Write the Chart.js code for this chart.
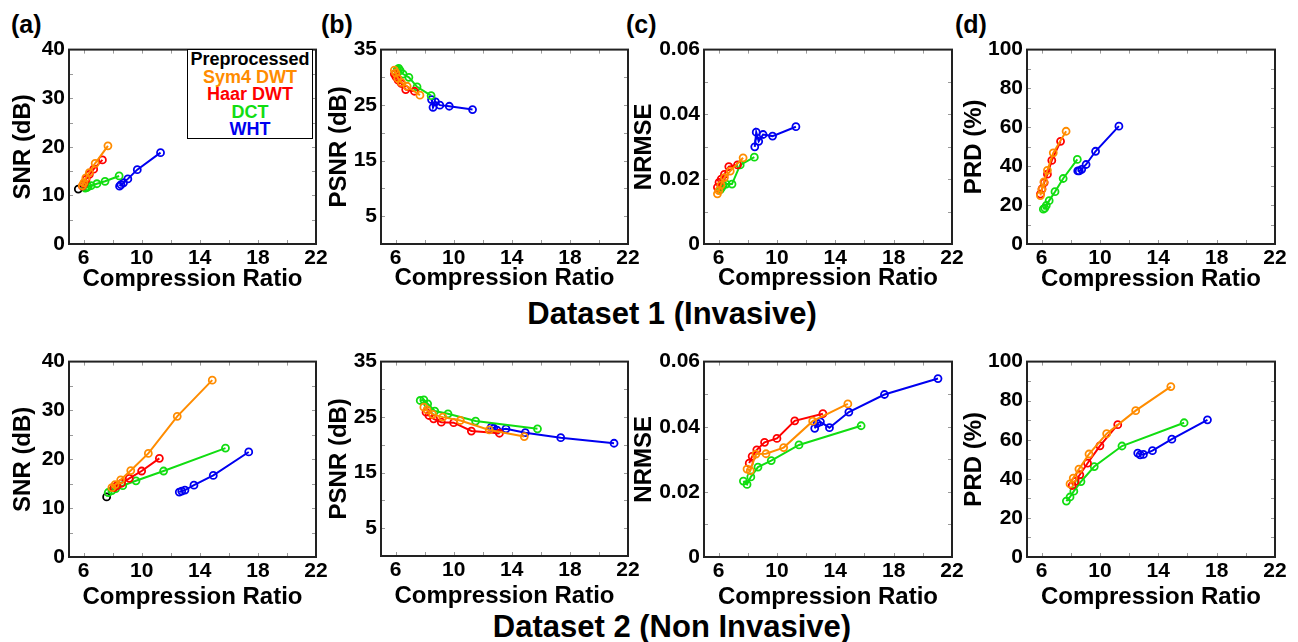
<!DOCTYPE html>
<html>
<head>
<meta charset="utf-8">
<script src="https://cdn.jsdelivr.net/npm/chart.js@4.4.0/dist/chart.umd.min.js"></script>
<style>
  body { margin: 0; background: #fff; width: 1298px; height: 642px; position: relative; overflow: hidden;
         font-family: "Liberation Sans", Arial, sans-serif; font-weight: bold; }
  canvas { position: absolute; }
  .tag { position: absolute; font-size: 25px; line-height: 25px; color: #000; }
  .ds { position: absolute; font-size: 31px; line-height: 31px; color: #000; transform: translateX(-50%); white-space: nowrap; }
  #legend { position: absolute; left: 187px; top: 49px; width: 124px; height: 87px; border: 1.5px solid #000;
            background: #fff; text-align: center; font-size: 18px; line-height: 17.6px; padding-top: 1px; }
</style>
</head>
<body>
<div class="tag" style="left:11px;top:12px">(a)</div>
<div class="tag" style="left:321px;top:12px">(b)</div>
<div class="tag" style="left:626px;top:12px">(c)</div>
<div class="tag" style="left:955px;top:12px">(d)</div>
<div class="ds" style="left:672px;top:298px">Dataset 1 (Invasive)</div>
<div class="ds" style="left:672px;top:611px">Dataset 2 (Non Invasive)</div>

<script>
// colours of the methods
const cSym4 = "#ff8c00";
const cHaar = "#ff0000";
const cDct = "#11dd11";
const cWht = "#0000f0";

// ---- Dataset 1 (Invasive): compression ratios ----
const cr1Pre = [5.64];
const cr1Sym4 = [5.92, 6.02, 6.16, 6.40, 6.80, 7.68];
const cr1Haar = [5.92, 6.03, 6.18, 6.40, 6.70, 7.30];
const cr1Dct = [6.12, 6.22, 6.32, 6.52, 6.92, 7.48, 8.45];
const cr1Wht = [8.48, 8.58, 8.75, 9.05, 9.70, 11.30];

const snr1Pre = [11.3];
const snr1Sym4 = [12.0, 12.6, 13.6, 14.7, 16.6, 20.2];
const snr1Haar = [11.9, 12.4, 13.3, 14.3, 15.4, 17.3];
const snr1Dct = [11.5, 11.6, 11.8, 12.0, 12.4, 12.9, 14.0];
const snr1Wht = [11.9, 12.2, 12.6, 13.4, 15.3, 18.8];

const psnr1Sym4 = [31.3, 30.8, 29.8, 29.1, 28.4, 26.8];
const psnr1Haar = [30.6, 30.1, 29.5, 28.9, 27.8, 27.5];
const psnr1Dct = [31.4, 31.6, 31.2, 30.6, 30.0, 28.3, 26.7];
const psnr1Wht = [26.0, 24.6, 25.6, 25.0, 24.8, 24.2];

const nrmse1Sym4 = [0.0155, 0.0165, 0.0182, 0.0205, 0.0225, 0.0266];
const nrmse1Haar = [0.0175, 0.0190, 0.0200, 0.0215, 0.0239, 0.0244];
const nrmse1Dct = [0.0168, 0.0175, 0.0182, 0.0185, 0.0185, 0.0244, 0.0268];
const nrmse1Wht = [0.0300, 0.0345, 0.0317, 0.0338, 0.0333, 0.0362];

const prd1Sym4 = [24.9, 28.0, 32.0, 37.9, 46.9, 58.0];
const prd1Haar = [25.7, 28.3, 31.6, 35.9, 43.0, 52.8];
const prd1Dct = [17.9, 18.5, 19.8, 22.3, 26.9, 33.7, 43.5];
const prd1Wht = [37.6, 37.6, 38.4, 40.9, 47.7, 60.6];

// ---- Dataset 2 (Non Invasive) ----
const cr2Pre = [7.59];
const cr2Sym4 = [7.95, 8.17, 8.56, 9.25, 10.46, 12.45, 14.86];
const cr2Haar = [8.10, 8.30, 8.62, 9.15, 10.00, 11.22, 13.15];
const cr2Dct = [7.70, 7.95, 8.21, 8.70, 9.61, 11.51, 15.77];
const cr2Wht = [12.59, 12.76, 12.98, 13.60, 14.93, 17.37, 21.04];

const snr2Pre = [12.3];
const snr2Sym4 = [14.2, 14.8, 15.8, 17.7, 21.2, 28.8, 36.2];
const snr2Haar = [14.2, 14.6, 15.1, 16.1, 17.6, 20.2];
const snr2Dct = [13.2, 13.6, 14.0, 14.6, 15.6, 17.6, 22.3];
const snr2Wht = [13.3, 13.5, 13.7, 14.7, 16.7, 21.5];

const psnr2Sym4 = [26.8, 26.3, 25.5, 25.0, 24.4, 22.7, 21.5];
const psnr2Haar = [25.9, 25.3, 24.7, 24.1, 24.0, 22.5, 22.1];
const psnr2Dct = [28.0, 28.1, 27.4, 26.1, 25.6, 24.3, 22.9];
const psnr2Wht = [23.2, 23.0, 22.65, 22.9, 22.2, 21.3, 20.3];

const nrmse2Sym4 = [0.0270, 0.0265, 0.0316, 0.0317, 0.0336, 0.0417, 0.0470];
const nrmse2Haar = [0.0288, 0.0309, 0.0329, 0.0352, 0.0364, 0.0418, 0.0440];
const nrmse2Dct = [0.0233, 0.0223, 0.0246, 0.0276, 0.0296, 0.0344, 0.0403];
const nrmse2Wht = [0.0395, 0.0410, 0.0415, 0.0397, 0.0445, 0.0499, 0.0548];

const prd2Sym4 = [37.4, 40.4, 45.0, 52.7, 63.1, 74.9, 87.2];
const prd2Haar = [36.6, 38.7, 42.1, 48.0, 56.9, 67.7];
const prd2Dct = [28.6, 30.7, 33.7, 38.6, 46.3, 56.8, 68.7];
const prd2Wht = [53.2, 52.3, 52.5, 54.4, 60.3, 70.2];

// axis ticks
const xTicks = [6, 10, 14, 18, 22];
const xMinor = [6, 8, 10, 12, 14, 16, 18, 20, 22];
const snrTicks = [0, 10, 20, 30, 40];
const snrMinor = [5, 10, 15, 20, 25, 30, 35];
const psnrTicks = [5, 15, 25, 35];
const psnrMinor = [5, 10, 15, 20, 25, 30];
const nrmseTicks = [0, 0.02, 0.04, 0.06];
const nrmseMinor = [0.01, 0.02, 0.03, 0.04, 0.05];
const prdTicks = [0, 20, 40, 60, 80, 100];
const prdMinor = [10, 20, 30, 40, 50, 60, 70, 80, 90];

Chart.defaults.font.family = '"Liberation Sans", Arial, sans-serif';
Chart.defaults.font.weight = "bold";
Chart.defaults.color = "#000";

const pts = (cr, vals) => vals.map((v, i) => ({ x: cr[i], y: v }));

function line(label, color, cr, vals) {
  return {
    label: label,
    data: pts(cr, vals),
    showLine: true,
    borderColor: color,
    backgroundColor: color,
    borderWidth: 2,
    pointRadius: 3.5,
    pointBorderWidth: 1.8,
    pointBackgroundColor: "rgba(255,255,255,0)",
    pointBorderColor: color,
  };
}

// draws the frame and the small inward tick marks
const framePlugin = {
  id: "frame",
  afterDatasetsDraw(chart, args, opts) {
    const { ctx, chartArea: a, scales } = chart;
    ctx.save();
    ctx.strokeStyle = "#9a9a9a";
    ctx.lineWidth = 1;
    ctx.beginPath();
    opts.xMinor.forEach((v) => {
      const px = Math.round(scales.x.getPixelForValue(v)) + 0.5;
      ctx.moveTo(px, a.top); ctx.lineTo(px, a.top + 4);
      ctx.moveTo(px, a.bottom); ctx.lineTo(px, a.bottom - 4);
    });
    opts.yMinor.forEach((v) => {
      const py = Math.round(scales.y.getPixelForValue(v)) + 0.5;
      ctx.moveTo(a.left, py); ctx.lineTo(a.left + 4, py);
      ctx.moveTo(a.right, py); ctx.lineTo(a.right - 4, py);
    });
    ctx.stroke();
    ctx.strokeStyle = "#222";
    ctx.lineWidth = 2;
    ctx.strokeRect(a.left, a.top, a.right - a.left, a.bottom - a.top);
    ctx.restore();
  },
};

function makePanel(box, yOff, xOff, yTitle, yMax, yTicks, yMinor, datasets) {
  const [L, T, R, B] = box;
  const PT = 14, PR = 18;
  const YW = Math.round(yOff + 14.4);
  const XH = Math.round(xOff + 14.4);
  const cv = document.createElement("canvas");
  const w = YW + (R - L) + PR;
  const h = PT + (B - T) + XH;
  cv.width = w; cv.height = h;
  cv.style.left = (L - YW) + "px";
  cv.style.top = (T - PT) + "px";
  cv.style.width = w + "px";
  cv.style.height = h + "px";
  document.body.appendChild(cv);

  new Chart(cv, {
    type: "scatter",
    data: { datasets: datasets },
    options: {
      responsive: false,
      animation: false,
      devicePixelRatio: 1,
      layout: { padding: { left: 0, top: PT, right: PR, bottom: 0 } },
      plugins: {
        legend: { display: false },
        tooltip: { enabled: false },
        frame: { xMinor: xMinor, yMinor: yMinor },
      },
      scales: {
        x: {
          type: "linear",
          min: 5,
          max: 22,
          afterBuildTicks: (s) => { s.ticks = xTicks.map((v) => ({ value: v })); },
          afterFit: (s) => { s.height = XH; },
          grid: { display: false, drawTicks: false },
          border: { display: false },
          ticks: { font: { size: 21, weight: "bold" }, color: "#000", padding: 2, autoSkip: false, maxRotation: 0,
                   callback: (v) => String(v) },
          title: { display: true, text: "Compression Ratio", font: { size: 24, weight: "bold" }, color: "#000", padding: 0 },
        },
        y: {
          type: "linear",
          min: 0,
          max: yMax,
          afterBuildTicks: (s) => { s.ticks = yTicks.map((v) => ({ value: v })); },
          afterFit: (s) => { s.width = YW; },
          grid: { display: false, drawTicks: false },
          border: { display: false },
          ticks: { font: { size: 21, weight: "bold" }, color: "#000", padding: 4, autoSkip: false,
                   callback: (v) => String(v) },
          title: { display: true, text: yTitle, font: { size: 24, weight: "bold" }, color: "#000", padding: 0 },
        },
      },
    },
    plugins: [framePlugin],
  });
}

// top row: Dataset 1
makePanel([69, 47, 316, 244], 46, 35.5, "SNR (dB)", 40, snrTicks, snrMinor, [
  line("Sym4 DWT", cSym4, cr1Sym4, snr1Sym4),
  line("Haar DWT", cHaar, cr1Haar, snr1Haar),
  line("DCT", cDct, cr1Dct, snr1Dct),
  line("WHT", cWht, cr1Wht, snr1Wht),
  line("Preprocessed", "#000", cr1Pre, snr1Pre),
]);
makePanel([381, 47, 628, 244], 42, 35, "PSNR (dB)", 35, psnrTicks, psnrMinor, [
  line("Sym4 DWT", cSym4, cr1Sym4, psnr1Sym4),
  line("Haar DWT", cHaar, cr1Haar, psnr1Haar),
  line("DCT", cDct, cr1Dct, psnr1Dct),
  line("WHT", cWht, cr1Wht, psnr1Wht),
]);
makePanel([704, 47, 952, 244], 59.5, 35, "NRMSE", 0.06, nrmseTicks, nrmseMinor, [
  line("Sym4 DWT", cSym4, cr1Sym4, nrmse1Sym4),
  line("Haar DWT", cHaar, cr1Haar, nrmse1Haar),
  line("DCT", cDct, cr1Dct, nrmse1Dct),
  line("WHT", cWht, cr1Wht, nrmse1Wht),
]);
makePanel([1027, 47, 1275, 244], 53, 36, "PRD (%)", 100, prdTicks, prdMinor, [
  line("Sym4 DWT", cSym4, cr1Sym4, prd1Sym4),
  line("Haar DWT", cHaar, cr1Haar, prd1Haar),
  line("DCT", cDct, cr1Dct, prd1Dct),
  line("WHT", cWht, cr1Wht, prd1Wht),
]);

// bottom row: Dataset 2
makePanel([69, 359, 316, 557], 46, 40.5, "SNR (dB)", 40, snrTicks, snrMinor, [
  line("Sym4 DWT", cSym4, cr2Sym4, snr2Sym4),
  line("Haar DWT", cHaar, cr2Haar, snr2Haar),
  line("DCT", cDct, cr2Dct, snr2Dct),
  line("WHT", cWht, cr2Wht, snr2Wht),
  line("Preprocessed", "#000", cr2Pre, snr2Pre),
]);
makePanel([381, 359, 628, 556], 42, 40.5, "PSNR (dB)", 35, psnrTicks, psnrMinor, [
  line("Sym4 DWT", cSym4, cr2Sym4, psnr2Sym4),
  line("Haar DWT", cHaar, cr2Haar, psnr2Haar),
  line("DCT", cDct, cr2Dct, psnr2Dct),
  line("WHT", cWht, cr2Wht, psnr2Wht),
]);
makePanel([704, 359, 952, 557], 60, 41, "NRMSE", 0.06, nrmseTicks, nrmseMinor, [
  line("Sym4 DWT", cSym4, cr2Sym4, nrmse2Sym4),
  line("Haar DWT", cHaar, cr2Haar, nrmse2Haar),
  line("DCT", cDct, cr2Dct, nrmse2Dct),
  line("WHT", cWht, cr2Wht, nrmse2Wht),
]);
makePanel([1027, 359, 1275, 557], 53, 41, "PRD (%)", 100, prdTicks, prdMinor, [
  line("Sym4 DWT", cSym4, cr2Sym4, prd2Sym4),
  line("Haar DWT", cHaar, cr2Haar, prd2Haar),
  line("DCT", cDct, cr2Dct, prd2Dct),
  line("WHT", cWht, cr2Wht, prd2Wht),
]);
</script>
<div id="legend">
  <div style="color:#000">Preprocessed</div>
  <div style="color:#ff8c00">Sym4 DWT</div>
  <div style="color:#ff0000">Haar DWT</div>
  <div style="color:#11dd11">DCT</div>
  <div style="color:#0000f0">WHT</div>
</div>
</body>
</html>
